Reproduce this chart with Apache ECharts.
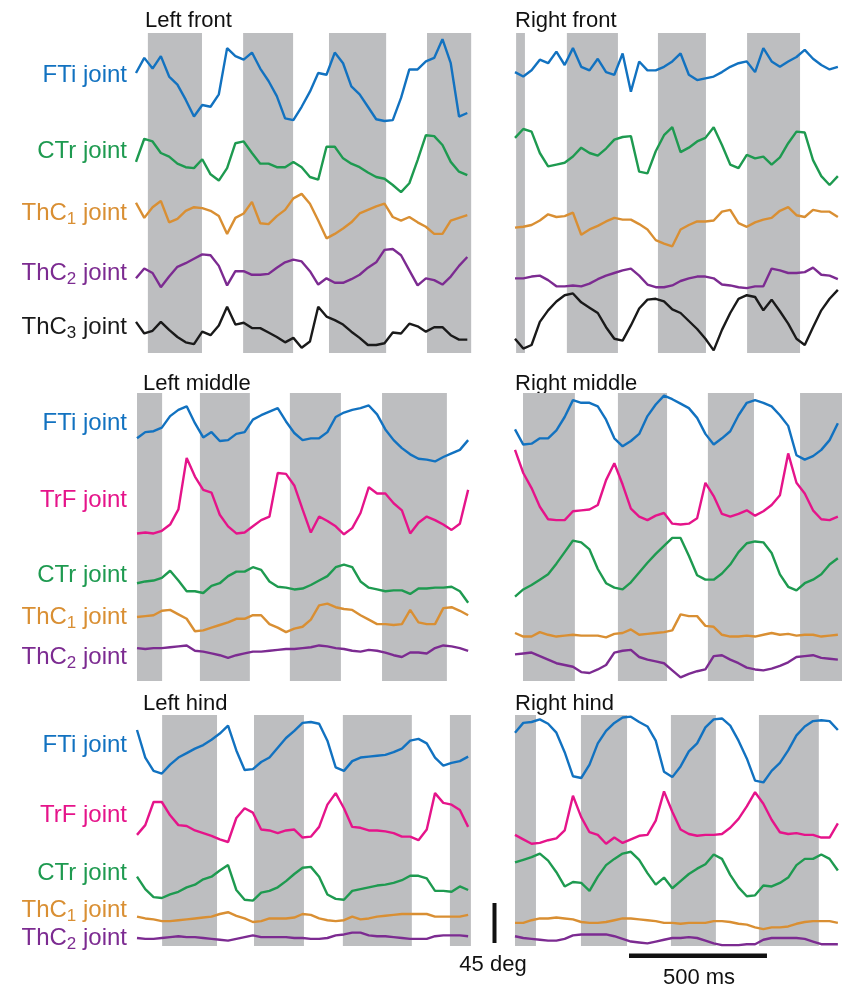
<!DOCTYPE html>
<html>
<head>
<meta charset="utf-8">
<script src="https://cdn.jsdelivr.net/npm/echarts@6/dist/echarts.min.js"></script>
<style>
  html, body { margin: 0; background: #fff; }
  #main { width: 842px; height: 984px; }
</style>
</head>
<body>
<div id="main"></div>
<script>
// joint angles in deg, sampled every DT ms, relative to each trace's own baseline
var DT = 30;

// left front
var lfFTi  = [15,32,20,34,11,2,-15,-34,-21,-23,-9,43,34,30,38,20,6,-11,-36,-38,-23,-6,15,13,38,26,0,-9,-23,-37,-39,-38,-13,19,19,28,32,53,26,-34,-30];
var lfCTr  = [-2,24,21,8,4,-4,-8,-9,1,-16,-23,-9,19,21,8,-4,-4,-8,-8,-2,-8,-19,-22,15,15,2,-4,-8,-14,-19,-21,-28,-36,-26,0,28,27,17,-2,-13,-17];
var lfThC1 = [14,-3,9,16,-8,-4,5,9,8,5,-1,-21,-3,2,15,-9,-10,-1,6,19,24,13,-6,-26,-21,-15,-8,2,6,10,13,-2,-6,-2,-8,-13,-21,-21,-6,-3,0];
var lfThC2 = [-6,5,0,-16,-4,7,11,16,21,20,8,-14,2,2,-2,-2,-1,6,12,15,13,2,-13,-6,-11,-11,-7,-2,6,12,26,27,20,3,-14,-6,-8,-13,-4,8,18];
var lfThC3 = [9,-4,-1,9,0,-8,-14,-16,-2,-6,5,26,6,8,2,2,-3,-8,-14,-9,-20,-13,26,15,11,6,-2,-9,-17,-17,-15,-3,-4,7,4,-2,3,3,-6,-11,-11];

// right front
var rfFTi  = [-6,-11,-4,8,4,17,2,21,0,-4,9,-6,-9,15,-28,6,-4,-4,0,6,15,-9,-15,-13,-11,-6,0,4,6,-6,21,6,0,6,11,19,9,2,-3,0];
var rfCTr  = [17,27,24,0,-15,-13,-11,-4,6,0,-3,5,15,18,19,-21,-23,2,20,29,1,6,13,17,29,9,-13,-17,-2,-6,-4,-13,-5,11,24,23,-8,-26,-36,-26];
var rfThC1 = [-9,-8,-6,-1,6,3,4,8,-17,-11,-7,-2,2,0,0,-5,-11,-23,-27,-30,-11,-6,-2,-2,-1,9,11,-4,-8,-3,0,2,10,14,5,3,11,9,9,3];
var rfThC2 = [0,0,2,3,-2,-9,-9,-8,-9,-6,-1,3,6,9,11,3,-7,-10,-10,-8,-3,0,2,2,0,-7,-8,-10,-11,-9,-9,11,9,6,6,7,12,4,3,-1];
var rfThC3 = [-21,-32,-28,-2,11,21,28,30,20,14,8,-8,-21,-23,-6,13,23,24,21,12,8,-1,-10,-21,-34,-11,8,24,28,26,11,23,10,-4,-21,-28,-8,11,24,34];

// left middle
var mlFTi  = [-6,1,2,6,19,26,30,11,-5,1,-9,-8,-1,1,15,20,24,28,13,0,-8,-6,-6,1,18,23,26,28,31,21,4,-8,-17,-24,-29,-30,-32,-27,-23,-19,-8];
var mlTrF  = [-19,-18,-19,-16,-9,8,66,45,30,27,2,-11,-19,-18,-11,-4,0,49,48,35,8,-18,0,-5,-11,-20,-13,4,33,26,26,15,7,-19,-7,0,-4,-9,-15,-8,30];
var mlCTr  = [0,2,3,6,14,3,-9,-9,-11,-3,0,8,13,13,18,15,2,-4,-5,-7,-6,-2,3,8,18,21,18,2,-5,-7,-9,-8,-8,-12,-6,-6,-5,-5,-4,-9,-22];
var mlThC1 = [0,1,2,7,8,3,-2,-16,-15,-12,-9,-6,-2,-2,2,2,-8,-12,-17,-13,-11,-3,13,15,11,9,8,2,-3,-8,-8,-9,-8,8,-6,-8,-8,10,11,7,2];
var mlThC2 = [2,1,2,2,3,4,5,-1,-2,-4,-6,-9,-6,-4,-2,-2,-1,0,1,1,2,3,5,4,2,1,-1,-2,0,-1,-3,-6,-8,-3,-3,-4,2,5,4,2,-1];

// right middle
var mrFTi  = [-7,-24,-23,-17,-17,-8,7,26,23,23,19,4,-17,-26,-20,-12,8,21,31,27,22,17,6,-12,-24,-17,-9,9,23,26,23,19,9,-3,-36,-41,-37,-30,-19,0];
var mrTrF  = [60,34,17,-4,-18,-19,-19,-9,-8,-7,-2,26,45,21,-6,-15,-19,-14,-11,-23,-24,-23,-17,23,8,-12,-15,-12,-8,-14,-9,-2,9,56,23,11,-8,-18,-19,-15];
var mrCTr  = [-30,-22,-17,-11,-5,7,20,33,31,23,1,-15,-20,-22,-14,-3,8,18,27,36,36,16,-6,-11,-11,-4,6,20,30,32,31,19,-5,-19,-23,-15,-11,-5,6,13];
var mrThC1 = [2,-2,-2,3,0,-2,-1,0,-1,-1,-1,-3,1,2,6,0,1,2,3,5,23,21,21,10,9,0,-2,-2,-1,-2,0,2,0,1,-1,0,0,-2,-1,0];
var mrThC2 = [6,7,8,4,0,-4,-6,-8,-14,-15,-11,-6,8,10,11,3,0,-2,-4,-12,-20,-16,-13,-11,4,5,0,-4,-9,-11,-12,-10,-7,-3,3,4,5,2,1,0];

// left hind
var lhFTi  = [23,-8,-23,-26,-16,-8,-3,2,6,12,19,28,0,-22,-21,-13,-8,3,14,22,31,32,30,11,-19,-23,-12,-8,-7,-6,-5,-2,2,11,13,8,-8,-17,-14,-12,-7];
var lhTrF  = [-13,-2,24,24,9,-2,-3,-8,-11,-14,-18,-21,6,17,12,-7,-8,-11,-8,-7,-16,-15,-4,21,34,17,-4,-5,-8,-8,-9,-11,-15,-15,-19,-7,34,23,21,15,-4];
var lhCTr  = [8,-6,-15,-16,-12,-9,-4,-1,5,8,15,21,-7,-18,-19,-10,-8,-4,3,11,18,19,8,-12,-17,-18,-8,-6,-4,-2,-1,1,4,9,9,6,-8,-8,-9,-3,-7];
var lhThC1 = [0,-2,-3,-5,-5,-4,-3,-2,-1,0,3,5,1,-2,-6,-5,-2,-2,-2,-1,3,2,-2,-4,-5,-4,0,-3,-2,0,1,2,3,3,3,3,0,0,0,0,2];
var lhThC2 = [-1,-2,-2,-1,0,1,0,0,-1,-2,-3,-4,-2,0,2,0,0,0,0,-1,-1,-2,-2,-1,2,3,5,5,2,1,1,0,-1,-2,-2,-2,1,2,2,2,1];

// right hind
var rhFTi  = [20,31,32,35,30,20,-2,-29,-31,-16,8,22,31,37,38,32,27,11,-24,-30,-18,-1,8,26,35,36,28,11,-9,-34,-36,-23,-14,0,17,27,33,34,33,23];
var rhTrF  = [-5,-10,-15,-14,-11,-9,0,39,15,-2,-5,-15,-8,-14,-10,-6,-5,11,44,21,1,-4,-6,-5,-5,-4,3,13,27,43,30,12,-2,-4,-3,-5,-5,-8,-8,8];
var rhCTr  = [9,12,15,19,11,-2,-18,-13,-14,-23,-7,6,13,19,21,12,-3,-16,-8,-20,-12,-4,2,7,18,13,-5,-19,-29,-28,-17,-18,-14,-8,6,13,13,18,13,0];
var rhThC1 = [0,0,3,5,5,6,5,4,1,0,0,1,3,5,5,4,3,2,0,0,-1,0,0,0,2,2,1,-1,-2,-5,-7,-5,-5,-4,-1,1,2,2,2,0];
var rhThC2 = [4,2,1,0,-1,-1,1,5,6,6,6,6,4,1,-2,-3,-4,-2,0,2,2,3,2,-1,-4,-6,-6,-6,-5,-5,0,2,2,2,2,1,-2,-5,-5,-5];

// stance phases (ms)
var lfBands = [[43,239],[388,569],[699,906],[1054,1214]];
var rfBands = [[4,36],[188,373],[518,692],[841,1033]];
var mlBands = [[0,91],[228,409],[554,739],[888,1123]];
var mrBands = [[29,217],[373,551],[699,866],[1033,1185]];
var lhBands = [[91,290],[424,605],[746,996],[1134,1210]];
var rhBands = [[0,76],[239,406],[565,728],[884,1101]];

var front = ['FTi', 'CTr', 'ThC1', 'ThC2', 'ThC3'];
var legs  = ['FTi', 'TrF', 'CTr', 'ThC1', 'ThC2'];

var colors = {
  FTi: '#1272c0', CTr: '#1e9a50', ThC1: '#d98f33', ThC2: '#7c2b91',
  ThC3: '#1a1a1a', TrF: '#e5148a'
};
var GRAY = '#bdbec0';
var FONT = 'Liberation Sans, Arial, sans-serif';
var DEG_PER_PX = 45 / 40;

var panels = [
  { title: 'Left front', tx: 145, ty: 21, left: 136, top: 33, width: 336, height: 320, span: 1217,
    bands: lfBands, traces: [lfFTi, lfCTr, lfThC1, lfThC2, lfThC3], joints: front,
    offsets: [300, 217, 155, 90, 26], labels: [75, 151, 213, 273, 327] },
  { title: 'Right front', tx: 515, ty: 21, left: 515, top: 33, width: 327, height: 320, span: 1185,
    bands: rfBands, traces: [rfFTi, rfCTr, rfThC1, rfThC2, rfThC3], joints: front,
    offsets: [322, 225, 150, 84, 37] },
  { title: 'Left middle', tx: 143, ty: 384, left: 137, top: 393, width: 335, height: 288, span: 1214,
    bands: mlBands, traces: [mlFTi, mlTrF, mlCTr, mlThC1, mlThC2], joints: legs,
    offsets: [279, 185, 110, 72, 35], labels: [423, 500, 575, 617, 657] },
  { title: 'Right middle', tx: 515, ty: 384, left: 515, top: 393, width: 327, height: 288, span: 1185,
    bands: mrBands, traces: [mrFTi, mrTrF, mrCTr, mrThC1, mrThC2], joints: legs,
    offsets: [290, 200, 125, 52, 24] },
  { title: 'Left hind', tx: 143, ty: 704, left: 137, top: 715, width: 335, height: 231, span: 1214,
    bands: lhBands, traces: [lhFTi, lhTrF, lhCTr, lhThC1, lhThC2], joints: legs,
    offsets: [220, 138, 70, 33, 10], labels: [745, 815, 873, 910, 938] },
  { title: 'Right hind', tx: 515, ty: 704, left: 515, top: 715, width: 327, height: 231, span: 1185,
    bands: rhBands, traces: [rhFTi, rhTrF, rhCTr, rhThC1, rhThC2], joints: legs,
    offsets: [220, 130, 85, 26, 7] }
];

function jointText(j) {
  var m = j.match(/^(ThC)(\d)$/);
  if (m) return '{a|ThC}{s|' + m[2] + '}{a| joint}';
  return '{a|' + j + ' joint}';
}

var grids = [], xAxes = [], yAxes = [], series = [], graphics = [];

panels.forEach(function (p, k) {
  var yMax = p.height * DEG_PER_PX;
  grids.push({ left: p.left, top: p.top, width: p.width, height: p.height });
  xAxes.push({ gridIndex: k, type: 'value', min: 0, max: p.span, show: false });
  yAxes.push({ gridIndex: k, type: 'value', min: 0, max: yMax, show: false });

  series.push({
    type: 'custom', xAxisIndex: k, yAxisIndex: k, z: 1, silent: true,
    data: p.bands,
    renderItem: function (params, api) {
      var a = api.coord([api.value(0), yMax]);
      var b = api.coord([api.value(1), 0]);
      return { type: 'rect', shape: { x: a[0], y: a[1], width: b[0] - a[0], height: b[1] - a[1] },
               style: { fill: GRAY } };
    }
  });

  p.traces.forEach(function (vals, j) {
    var off = p.offsets[j];
    series.push({
      type: 'line', xAxisIndex: k, yAxisIndex: k, z: 3,
      showSymbol: false, clip: false, silent: true,
      lineStyle: { color: colors[p.joints[j]], width: 2.4 },
      data: vals.map(function (v, i) { return [i * DT, v + off]; })
    });
  });

  graphics.push({ type: 'text', x: p.tx, y: p.ty,
    style: { text: p.title, fill: '#111', font: '22px ' + FONT, verticalAlign: 'middle' } });

  if (p.labels) {
    p.labels.forEach(function (ly, j) {
      var c = colors[p.joints[j]];
      graphics.push({ type: 'text', x: 127, y: ly,
        style: { text: jointText(p.joints[j]), align: 'right', verticalAlign: 'middle',
          rich: {
            a: { fill: c, fontSize: 24, fontFamily: FONT, lineHeight: 30 },
            s: { fill: c, fontSize: 17, fontFamily: FONT, lineHeight: 14, verticalAlign: 'bottom' }
          } } });
    });
  }
});

var chart = echarts.init(document.getElementById('main'));
chart.setOption({
  animation: false,
  backgroundColor: '#fff',
  grid: grids, xAxis: xAxes, yAxis: yAxes, series: series, graphic: graphics
});

// scale bars: 45 deg and 500 ms, measured through the last panel's axes
var o = chart.convertToPixel({ gridIndex: 5 }, [0, 0]);
var q = chart.convertToPixel({ gridIndex: 5 }, [500, 45]);
var barW = q[0] - o[0], barH = o[1] - q[1];
graphics.push(
  { type: 'rect', shape: { x: 492.5, y: 903, width: 4, height: barH }, style: { fill: '#111' } },
  { type: 'text', x: 493, y: 965, style: { text: '45 deg', fill: '#111', font: '22px ' + FONT,
      align: 'center', verticalAlign: 'middle' } },
  { type: 'rect', shape: { x: 629, y: 953.5, width: barW, height: 4.5 }, style: { fill: '#111' } },
  { type: 'text', x: 699, y: 978, style: { text: '500 ms', fill: '#111', font: '22px ' + FONT,
      align: 'center', verticalAlign: 'middle' } }
);
chart.setOption({ graphic: graphics });
</script>
</body>
</html>
